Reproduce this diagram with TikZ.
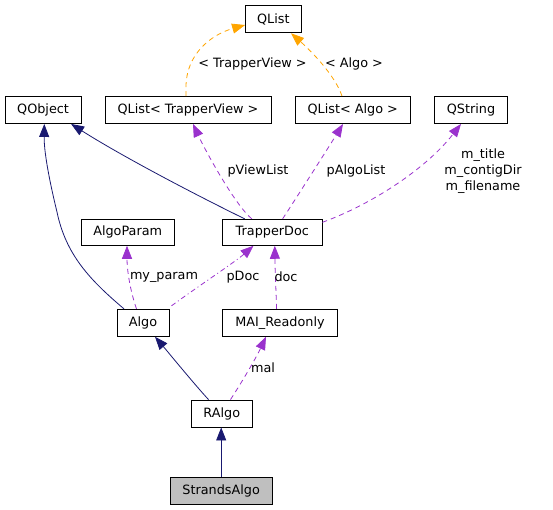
\documentclass[tikz,border=0pt]{standalone}
\usepackage{fontspec}
\setmainfont{DejaVu Sans}
\usetikzlibrary{arrows.meta,calc}
\definecolor{navy}{HTML}{191970}
\definecolor{orch}{HTML}{9A32CD}
\definecolor{orng}{HTML}{FFA500}
\definecolor{grayfill}{HTML}{BFBFBF}
\tikzset{
  box/.style={draw=black, line width=0.9pt, inner sep=0pt, font=\fontsize{12.8}{15}\selectfont, minimum height=27pt},
  lbl/.style={inner sep=0pt, font=\fontsize{12.8}{16}\selectfont, align=center},
  inh/.style={color=navy, line width=0.8pt, -{Triangle[length=13pt,width=10pt]}},
  usage/.style={color=orch, line width=0.8pt, dash pattern=on 5pt off 4pt, -{Triangle[length=13pt,width=10pt]}},
  usagedot/.style={color=orch, line width=0.8pt, dash pattern=on 5pt off 3pt on 1pt off 3pt, -{Triangle[length=13pt,width=10pt]}},
  tmpl/.style={color=orng, line width=0.8pt, dash pattern=on 5pt off 4pt, -{Triangle[length=13pt,width=10pt]}},
}
\begin{document}
\begin{tikzpicture}[x=1pt,y=-1pt]
\useasboundingbox (0,0) rectangle (553,509);
% nodes
\node[box, minimum width=55.5pt] (qlist) at (273.3,19.3) {QList};
\node[box, minimum width=75.7pt] (qobject) at (43.1,110) {QObject};
\node[box, minimum width=166pt] (qltv) at (188,110) {QList< TrapperView >};
\node[box, minimum width=115.6pt] (qla) at (352.8,110) {QList< Algo >};
\node[box, minimum width=72.3pt] (qstring) at (471,110) {QString};
\node[box, minimum width=93.5pt, minimum height=26pt] (algoparam) at (127.7,232.3) {AlgoParam};
\node[box, minimum width=99.3pt, minimum height=26pt] (trapperdoc) at (272.3,232.3) {TrapperDoc};
\node[box, minimum width=52pt] (algo) at (143,322.8) {Algo};
\node[box, minimum width=114.5pt] (mai) at (280,322.8) {MAI\_Readonly};
\node[box, minimum width=60.5pt] (ralgo) at (221.8,413.5) {RAlgo};
\node[box, minimum width=102.5pt, fill=grayfill] (strands) at (221.2,490.7) {StrandsAlgo};
% inheritance
\draw[inh] (strands.north) -- (strands.north |- ralgo.south);
\draw[inh] ($(ralgo.north)+(-13.3,0)$) .. controls (195,385) and (168,352) .. ($(algo.south)+(12,0)$);
\draw[inh] ($(algo.north)+(-19,0)$) .. controls (90,280) and (66,255) .. (57,212)
  .. controls (48,175) and (44,150) .. ($(qobject.south)+(1.2,0)$);
\draw[inh] ($(trapperdoc.north)+(-27.6,0)$) .. controls (190,192) and (120,155) .. ($(qobject.south)+(28,0)$);
% usage
\draw[usage] ($(trapperdoc.north)+(-20.5,0)$) .. controls (235,205) and (205,150) .. ($(qltv.south)+(5,0)$);
\draw[usage] ($(trapperdoc.north)+(10.3,0)$) .. controls (295,200) and (330,145) .. ($(qla.south)+(-9.8,0)$);
\draw[usage] ($(trapperdoc.east)+(0,-10)$) .. controls (370,205) and (425,170) .. ($(qstring.south)+(-10,0)$);
\draw[usage] ($(algo.north)+(-6.5,0)$) .. controls (130,290) and (127,270) .. ($(algoparam.south)+(-0.7,0)$);
\draw[usagedot] ($(algo.north east)+(2,-3)$) .. controls (200,285) and (235,262) .. ($(trapperdoc.south)+(-18.8,0)$);
\draw[usage] ($(mai.north)+(-3.4,0)$) .. controls (276,290) and (275,270) .. ($(trapperdoc.south)+(2.5,0)$);
\draw[usage] ($(ralgo.north)+(8.7,0)$) .. controls (240,385) and (255,360) .. ($(mai.south)+(-14,0)$);
% template
\draw[tmpl] ($(qltv.north)+(-2,0)$) -- (186,87) .. controls (186,55) and (210,35) .. ($(qlist.west)+(0,5.7)$);
\draw[tmpl] ($(qla.north)+(-10.8,0)$) .. controls (335,75) and (310,50) .. ($(qlist.south)+(17.7,0)$);
% labels
\node[lbl] (l1) at (252.5,64) {< TrapperView >};
\node[lbl] (l2) at (354,64) {< Algo >};
\node[lbl] (l3) at (258,171) {pViewList};
\node[lbl] (l4) at (356,171) {pAlgoList};
\node[lbl] (l5) at (483,171) {m\_title\\m\_contigDir\\m\_filename};
\node[lbl] (l6) at (164,277) {my\_param};
\node[lbl] (l7) at (243,277) {pDoc};
\node[lbl] (l8) at (286,277) {doc};
\node[lbl] (l9) at (263,368) {mal};
\end{tikzpicture}
\end{document}
